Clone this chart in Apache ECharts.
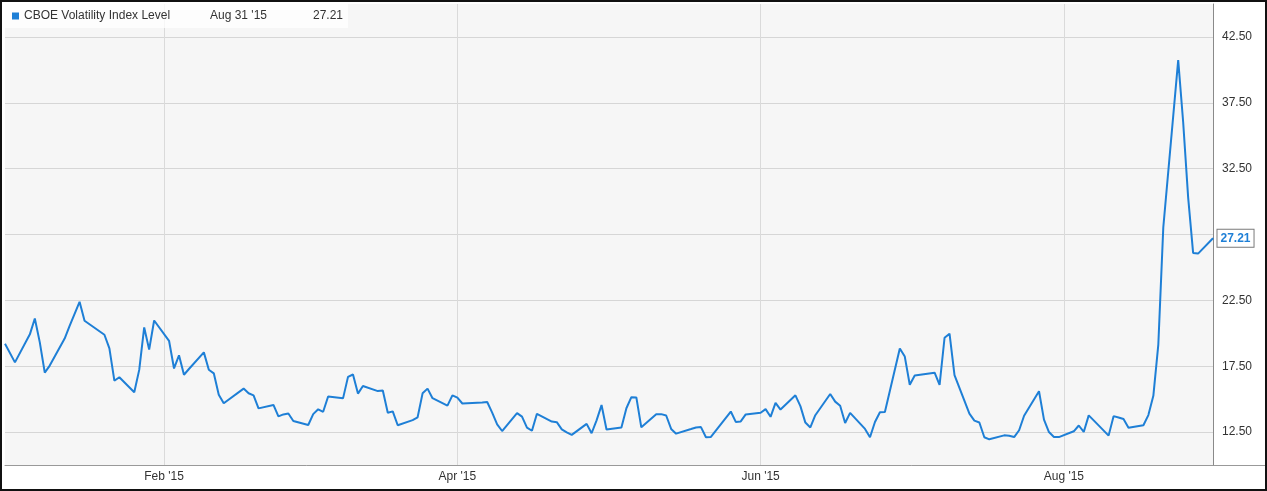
<!DOCTYPE html>
<html>
<head>
<meta charset="utf-8">
<script src="https://cdn.jsdelivr.net/npm/echarts@6/dist/echarts.min.js"></script>
<style>
html,body{margin:0;padding:0;background:#fff;}
#chart{width:1267px;height:491px;}
</style>
</head>
<body>
<div id="chart"></div>
<script>
const seriesName = 'CBOE Volatility Index Level';
const dates = [
'2014-12-31','2015-01-02','2015-01-05','2015-01-06','2015-01-07','2015-01-08','2015-01-09','2015-01-12','2015-01-13','2015-01-14',
'2015-01-15','2015-01-16','2015-01-20','2015-01-21','2015-01-22','2015-01-23','2015-01-26','2015-01-27','2015-01-28','2015-01-29',
'2015-01-30','2015-02-02','2015-02-03','2015-02-04','2015-02-05','2015-02-06','2015-02-09','2015-02-10','2015-02-11','2015-02-12',
'2015-02-13','2015-02-17','2015-02-18','2015-02-19','2015-02-20','2015-02-23','2015-02-24','2015-02-25','2015-02-26','2015-02-27',
'2015-03-02','2015-03-03','2015-03-04','2015-03-05','2015-03-06','2015-03-09','2015-03-10','2015-03-11','2015-03-12','2015-03-13',
'2015-03-16','2015-03-17','2015-03-18','2015-03-19','2015-03-20','2015-03-23','2015-03-24','2015-03-25','2015-03-26','2015-03-27',
'2015-03-30','2015-03-31','2015-04-01','2015-04-02','2015-04-06','2015-04-07','2015-04-08','2015-04-09','2015-04-10','2015-04-13',
'2015-04-14','2015-04-15','2015-04-16','2015-04-17','2015-04-20','2015-04-21','2015-04-22','2015-04-23','2015-04-24','2015-04-27',
'2015-04-28','2015-04-29','2015-04-30','2015-05-01','2015-05-04','2015-05-05','2015-05-06','2015-05-07','2015-05-08','2015-05-11',
'2015-05-12','2015-05-13','2015-05-14','2015-05-15','2015-05-18','2015-05-19','2015-05-20','2015-05-21','2015-05-22','2015-05-26',
'2015-05-27','2015-05-28','2015-05-29','2015-06-01','2015-06-02','2015-06-03','2015-06-04','2015-06-05','2015-06-08','2015-06-09',
'2015-06-10','2015-06-11','2015-06-12','2015-06-15','2015-06-16','2015-06-17','2015-06-18','2015-06-19','2015-06-22','2015-06-23',
'2015-06-24','2015-06-25','2015-06-26','2015-06-29','2015-06-30','2015-07-01','2015-07-02','2015-07-06','2015-07-07','2015-07-08',
'2015-07-09','2015-07-10','2015-07-13','2015-07-14','2015-07-15','2015-07-16','2015-07-17','2015-07-20','2015-07-21','2015-07-22',
'2015-07-23','2015-07-24','2015-07-27','2015-07-28','2015-07-29','2015-07-30','2015-07-31','2015-08-03','2015-08-04','2015-08-05',
'2015-08-06','2015-08-07','2015-08-10','2015-08-11','2015-08-12','2015-08-13','2015-08-14','2015-08-17','2015-08-18','2015-08-19',
'2015-08-20','2015-08-21','2015-08-24','2015-08-25','2015-08-26','2015-08-27','2015-08-28','2015-08-31'
];
const values = [
19.20,17.79,19.92,21.12,19.31,17.01,17.55,19.60,20.56,21.48,
22.39,20.95,19.89,18.85,16.40,16.66,15.52,17.22,20.44,18.76,
20.97,19.43,17.33,18.33,16.85,17.29,18.55,17.23,16.96,15.34,
14.69,15.80,15.45,15.29,14.30,14.56,13.69,13.84,13.91,13.34,
13.04,13.86,14.23,14.04,15.20,15.06,16.69,16.87,15.42,16.00,
15.61,15.66,13.97,14.07,13.02,13.41,13.62,15.44,15.80,15.07,
14.51,15.29,15.11,14.67,14.74,14.78,13.98,13.09,12.58,13.94,
13.67,12.84,12.60,13.89,13.30,13.25,12.71,12.48,12.29,13.12,
12.41,13.39,14.55,12.70,12.85,14.31,15.15,15.13,12.86,13.85,
13.86,13.76,12.74,12.38,12.73,12.85,12.88,12.11,12.13,14.06,
13.27,13.31,13.84,13.97,14.24,13.66,14.71,14.21,15.29,14.47,
13.22,12.85,13.78,15.39,14.81,14.50,13.19,13.96,12.74,12.11,
13.26,14.01,14.02,18.85,18.23,16.09,16.79,17.01,16.09,19.66,
19.97,16.83,13.90,13.37,13.23,12.11,11.95,12.25,12.22,12.12,
12.64,13.74,15.60,13.44,12.50,12.13,12.12,12.56,13.00,12.51,
13.77,13.39,12.23,13.71,13.61,13.49,12.83,13.02,13.79,15.25,
19.14,28.03,40.74,36.02,30.32,26.10,26.05,27.21
];
const yTicks = [12.5, 17.5, 22.5, 27.5, 32.5, 37.5, 42.5];
const xTicks = ['2015-02-01', '2015-04-01', '2015-06-01', '2015-08-01'];
const xRange = ['2014-12-31', '2015-08-31'];
const yRange = [10, 45];

const MONTHS = ['Jan','Feb','Mar','Apr','May','Jun','Jul','Aug','Sep','Oct','Nov','Dec'];
function ts(s){ return new Date(s + 'T00:00:00').getTime(); }
function fmtMonth(v){ const d = new Date(v); return MONTHS[d.getMonth()] + " '" + String(d.getFullYear()).slice(2); }
function fmtDay(v){ const d = new Date(v); return MONTHS[d.getMonth()] + ' ' + d.getDate() + " '" + String(d.getFullYear()).slice(2); }

const seriesData = dates.map((d, i) => [ts(d), values[i]]);
const lastTs = ts(dates[dates.length - 1]);
const lastVal = values[values.length - 1];
const BLUE = '#1e7fd6';
const FONT = '"Liberation Sans", Arial, sans-serif';

const chart = echarts.init(document.getElementById('chart'), null, {renderer: 'canvas'});
chart.setOption({
  animation: false,
  backgroundColor: '#ffffff',
  textStyle: {fontFamily: FONT},
  grid: {
    left: 5, right: 54, top: 4, bottom: 26,
    show: true, backgroundColor: '#f6f6f6', borderWidth: 0
  },
  legend: {
    show: true,
    left: 12, top: 10, padding: 0, z: 20,
    icon: 'rect', itemWidth: 7, itemHeight: 7, itemGap: 6,
    textStyle: {fontSize: 12, color: '#333', fontFamily: FONT},
    data: [seriesName]
  },
  xAxis: {
    type: 'value',
    min: ts(xRange[0]), max: ts(xRange[1]),
    axisLine: {show: true, lineStyle: {color: '#999', width: 1}},
    axisTick: {show: false, customValues: xTicks.map(ts)},
    axisLabel: {
      customValues: xTicks.map(ts),
      formatter: fmtMonth,
      color: '#333', fontSize: 12, margin: 6, fontFamily: FONT
    },
    splitLine: {show: true, lineStyle: {color: '#dadada', width: 1}}
  },
  yAxis: {
    type: 'value',
    position: 'right',
    min: yRange[0], max: yRange[1],
    axisLine: {show: true, lineStyle: {color: '#8a8a8a', width: 1}},
    axisTick: {show: false, customValues: yTicks},
    axisLabel: {
      customValues: yTicks,
      formatter: v => v.toFixed(2),
      color: '#333', fontSize: 12, margin: 9, fontFamily: FONT
    },
    splitLine: {show: true, lineStyle: {color: '#d6d6d6', width: 1}}
  },
  series: [{
    name: seriesName,
    type: 'line',
    data: seriesData,
    showSymbol: false,
    symbol: 'none',
    color: BLUE,
    lineStyle: {color: BLUE, width: 2},
    clip: false,
    z: 5,
    markPoint: {
      z: 30,
      symbol: 'circle',
      symbolSize: 1,
      itemStyle: {color: BLUE},
      label: {
        show: true,
        position: 'right',
        distance: 4,
        formatter: p => p.value.toFixed(2),
        color: BLUE,
        fontWeight: 'bold',
        fontSize: 12,
        fontFamily: FONT,
        backgroundColor: '#ffffff',
        borderColor: '#7a7a7a',
        borderWidth: 1,
        padding: [3, 3, 2, 3]
      },
      data: [{coord: [lastTs, lastVal], value: lastVal}]
    }
  }],
  graphic: [
    {
      type: 'rect', z: 10, silent: true,
      shape: {x: 5, y: 4, width: 343, height: 24},
      style: {fill: 'rgba(255,255,255,0.75)'}
    },
    {
      type: 'text', silent: true, z: 20,
      style: {x: 210, y: 16, text: fmtDay(lastTs), fill: '#333', font: '12px ' + FONT, textVerticalAlign: 'middle'}
    },
    {
      type: 'text', silent: true, z: 20,
      style: {x: 313, y: 16, text: lastVal.toFixed(2), fill: '#333', font: '12px ' + FONT, textVerticalAlign: 'middle'}
    },
    {
      type: 'line', silent: true,
      shape: {x1: 1213, y1: 465.5, x2: 1267, y2: 465.5},
      style: {stroke: '#999', lineWidth: 1}
    },
    {
      type: 'rect', silent: true, z: 100,
      shape: {x: 1, y: 1, width: 1265, height: 489},
      style: {fill: 'none', stroke: '#111', lineWidth: 2}
    }
  ]
});
</script>
</body>
</html>
